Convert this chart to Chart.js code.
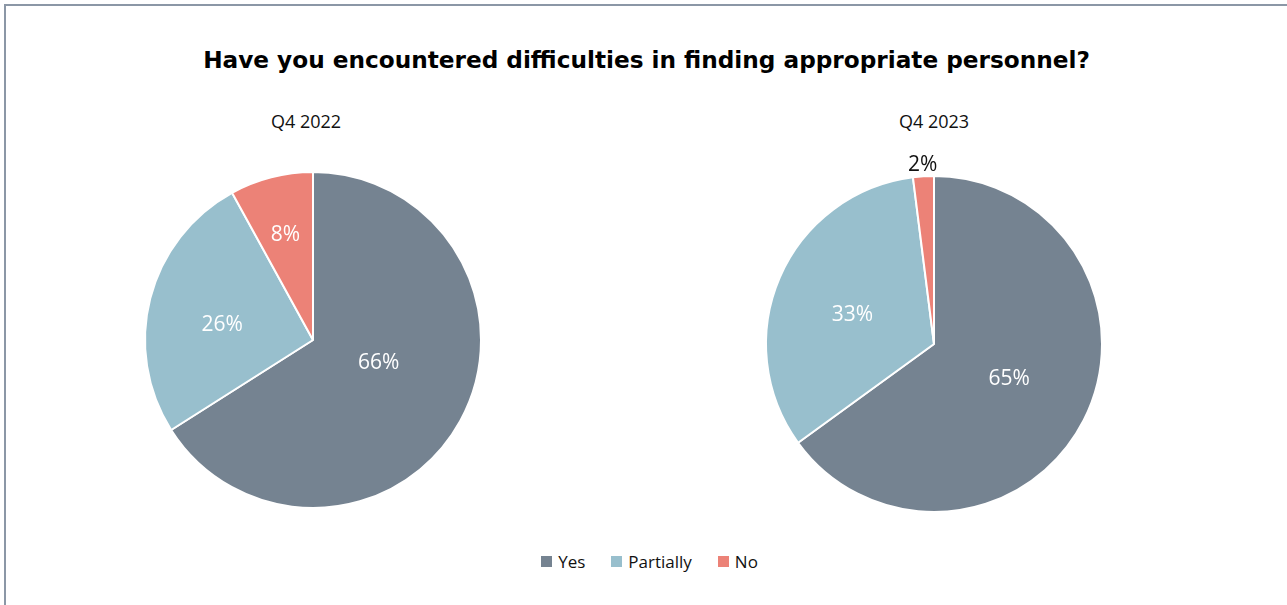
<!DOCTYPE html>
<html>
<head>
<meta charset="utf-8">
<script src="https://cdn.jsdelivr.net/npm/chart.js@4/dist/chart.umd.min.js"></script>
<style>
  html, body { margin: 0; padding: 0; background: #fff; }
  body { width: 1287px; height: 605px; position: relative; overflow: hidden; }
  .frame { position: absolute; left: 4px; top: 4px; width: 1400px; height: 700px;
           border: 2px solid #8b97a6; box-sizing: border-box; }
  .title { position: absolute; left: 0; width: 1293px; top: 46px; text-align: center;
           font: bold 23.2px "DejaVu Sans", sans-serif; color: #000; }
  .sub { position: absolute; width: 200px; text-align: center;
         font: 18px "Open Sans", "Noto Sans", sans-serif; color: #111; }
  .pie { position: absolute; }
  .legend { position: absolute; top: 550px; left: 3px; width: 1293px; display: flex;
            justify-content: center; gap: 26px; font: 17px "Open Sans", "Noto Sans", sans-serif; color: #111; }
  .legend span.item { display: flex; align-items: center; }
  .legend i { display: inline-block; width: 11px; height: 11px; margin-right: 6px; }
</style>
</head>
<body>
<div class="frame"></div>
<div class="title" id="title"></div>
<div class="sub" id="sub0" style="left:206px; top:109px;"></div>
<div class="sub" id="sub1" style="left:834px; top:109px;"></div>
<div class="pie" style="left:115px; top:142px; width:396px; height:396px;"><canvas id="pie0"></canvas></div>
<div class="pie" style="left:737px; top:147px; width:394px; height:394px;"><canvas id="pie1"></canvas></div>
<div class="legend" id="legend"></div>
<script>
// Survey answers and shares per quarter
const titleText = 'Have you encountered difficulties in finding appropriate personnel?';
const categories = ['Yes', 'Partially', 'No'];
const periods = ['Q4 2022', 'Q4 2023'];
const sharesQ4_2022 = [66, 26, 8];
const sharesQ4_2023 = [65, 33, 2];
const colors = ['#758391', '#98bfcd', '#ec8277'];

// Label placement: distance from the centre (fraction of the outer radius)
// and a small turn away from the slice's middle angle (degrees)
const labelRadius = [
  [0.41, 0.55, 0.66],
  [0.49, 0.52, 1.08]
];
const labelTurn = [
  [-11, -4, 0],
  [-3, -2.5, 0]
];

document.getElementById('title').textContent = titleText;
document.getElementById('sub0').textContent = periods[0];
document.getElementById('sub1').textContent = periods[1];

// Legend shared by both pies
const legend = document.getElementById('legend');
categories.forEach((c, i) => {
  const s = document.createElement('span');
  s.className = 'item';
  const sw = document.createElement('i');
  sw.style.background = colors[i];
  s.appendChild(sw);
  s.appendChild(document.createTextNode(c));
  legend.appendChild(s);
});

// Draws "NN%" on each slice; labels placed outside the pie are dark
const pctLabels = {
  id: 'pctLabels',
  afterDatasetsDraw(chart, args, opts) {
    const ctx = chart.ctx;
    const meta = chart.getDatasetMeta(0);
    const data = chart.data.datasets[0].data;
    ctx.save();
    ctx.font = '21px "Open Sans", "Noto Sans", sans-serif';
    ctx.textAlign = 'center';
    ctx.textBaseline = 'middle';
    meta.data.forEach((arc, i) => {
      const p = arc.getProps(['x', 'y', 'startAngle', 'endAngle', 'outerRadius'], true);
      const mid = (p.startAngle + p.endAngle) / 2 + opts.turn[i] * Math.PI / 180;
      const f = opts.radius[i];
      const r = p.outerRadius * f;
      ctx.fillStyle = f > 1 ? '#111' : '#fff';
      // nudge down so the glyphs' visual centre sits on the anchor point
      ctx.fillText(data[i] + '%', p.x + Math.cos(mid) * r, p.y + Math.sin(mid) * r + 2);
    });
    ctx.restore();
  }
};

function makePie(id, values, radii, turns, pad) {
  return new Chart(document.getElementById(id), {
    type: 'pie',
    data: {
      labels: categories,
      datasets: [{
        data: values,
        backgroundColor: colors,
        borderColor: '#ffffff',
        borderWidth: 2
      }]
    },
    options: {
      responsive: true,
      maintainAspectRatio: false,
      animation: false,
      layout: { padding: pad },
      plugins: {
        legend: { display: false },
        tooltip: { enabled: false },
        pctLabels: { radius: radii, turn: turns }
      }
    },
    plugins: [pctLabels]
  });
}

makePie('pie0', sharesQ4_2022, labelRadius[0], labelTurn[0], 29);
makePie('pie1', sharesQ4_2023, labelRadius[1], labelTurn[1], 28);
</script>
</body>
</html>
